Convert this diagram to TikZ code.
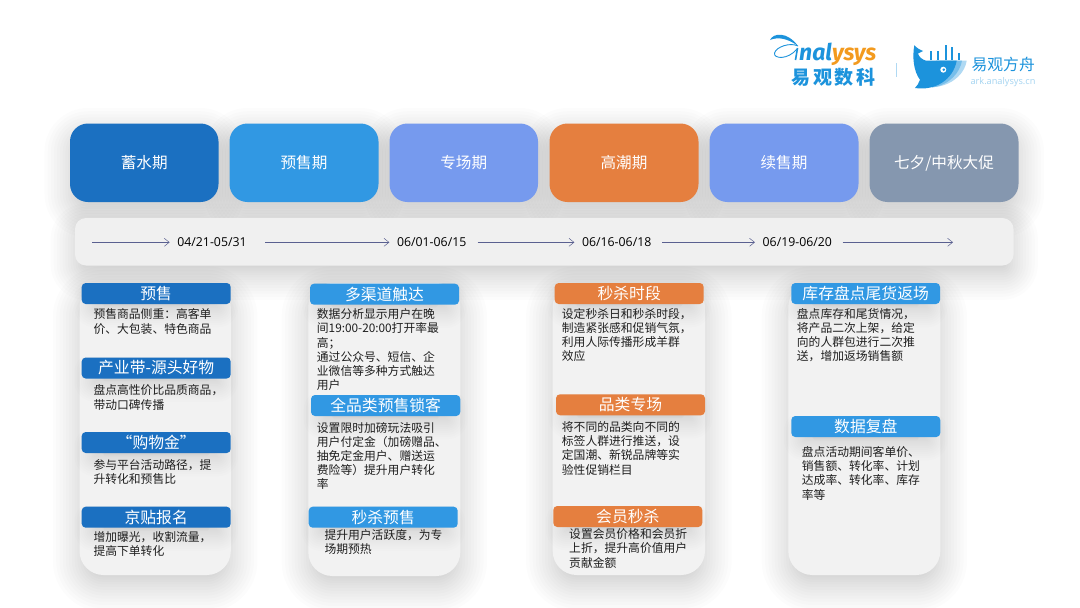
\documentclass[tikz,border=0pt]{standalone}
\usepackage{fontspec}
\setmainfont{Noto Sans CJK SC}
\newfontfamily\latinf{Open Sans}
\newfontfamily\logof{Fira Sans}
\usetikzlibrary{arrows.meta}
\definecolor{cDark}{HTML}{1B70C1}
\definecolor{cBlue}{HTML}{3198E3}
\definecolor{cPeri}{HTML}{769AEE}
\definecolor{cOrange}{HTML}{E57F3F}
\definecolor{cSlate}{HTML}{8597AF}
\definecolor{cCard}{HTML}{F2F2F2}
\definecolor{cBar}{HTML}{F0F0F0}
\definecolor{cArrow}{HTML}{5A6090}
\definecolor{cLogo}{HTML}{1C93DC}
\definecolor{cLogoO}{HTML}{F39A1E}
\definecolor{cTxt}{HTML}{1E1E1E}
% soft shadow: x0 y0 x1 y1 radius spread dy peak
\newcommand{\softshadow}[8]{%
  \foreach \i in {1,...,20}{%
    \pgfmathsetmacro{\ee}{#6*(\i/20)^1.5-#6*0.42}%
    \pgfmathsetmacro{\rr}{max(#5+\ee,1)}%
    \fill[black,opacity=#8,rounded corners=\rr]
      (#1-\ee,#2-\ee+#7) rectangle (#3+\ee,#4+\ee+#7);
  }}
\tikzset{
  x=1pt,y=-1pt,
  phasetxt/.style={text=white,font=\fontsize{15.6}{18}\selectfont},
  head/.style={text=white,font=\fontsize{15.8}{18}\selectfont,inner sep=0pt},
  body/.style={anchor=north west,align=left,inner sep=0pt,text=cTxt,
    font=\fontsize{11.8}{14.2}\selectfont},
  datel/.style={font=\latinf\fontsize{12.3}{14}\selectfont,text=black,inner ysep=0pt,inner xsep=7.5pt},
  tl/.style={draw=cArrow,line width=.6pt,-{Straight Barb[length=5pt,width=8pt,line width=.5pt]}}
}
\newcommand{\pshadow}[2]{\softshadow{#1}{123.5}{#2}{202}{18}{44}{10}{0.013}}
\newcommand{\period}[5]{% name x0 x1 colour text
  \fill[#4,rounded corners=18] (#2,123.5) rectangle (#3,202);
  \node[phasetxt] (#1) at ({(#2+#3)/2},163) {#5};
}
\newcommand{\cshadow}[3]{\softshadow{#1}{283}{#2}{#3}{24}{46}{10}{0.011}}
\newcommand{\card}[4]{% x0 x1 ybottom name
  \fill[cCard,rounded corners=24] (#1,283) rectangle (#2,#3);
  \coordinate (#4) at (#1,283);
}
\newcommand{\hdr}[6]{% name x0 y0 x1 colour text
  \begin{scope}
  \clip (#2-8,#3) rectangle (#4+8,#3+62);
  \softshadow{#2+10}{#3+6}{#4-10}{#3+21}{3}{30}{6}{0.0095}
  \end{scope}
  \fill[#5,rounded corners=4] (#2,#3) rectangle (#4,#3+21);
  \node[head] (#1) at ({(#2+#4)/2},#3+10.5) {#6};
}
\begin{document}
\begin{tikzpicture}
\useasboundingbox (0,0) rectangle (1080,608);
\fill[white] (0,0) rectangle (1080,608);

% all outer shadows first
\pshadow{70}{218.5}
\pshadow{229.5}{378.5}
\pshadow{389.5}{538}
\pshadow{549.5}{698.5}
\pshadow{709.5}{858.5}
\pshadow{869.5}{1018.5}
\softshadow{75}{218}{1013.5}{265.5}{11}{42}{10}{0.012}
\cshadow{79.5}{230.8}{575}
\cshadow{308.3}{460.3}{576}
\cshadow{552.7}{705}{575}
\cshadow{788.3}{940.3}{575}

% phases
\period{p1}{70}{218.5}{cDark}{蓄水期}
\period{p2}{229.5}{378.5}{cBlue}{预售期}
\period{p3}{389.5}{538}{cPeri}{专场期}
\period{p4}{549.5}{698.5}{cOrange}{高潮期}
\period{p5}{709.5}{858.5}{cPeri}{续售期}
\period{p6}{869.5}{1018.5}{cSlate}{七夕/中秋大促}

% timeline bar
\fill[cBar,rounded corners=11] (75,218) rectangle (1013.5,265.5);
\node[datel] (d1) at (212,242.3) {04/21-05/31};
\node[datel] (d2) at (431.7,242.3) {06/01-06/15};
\node[datel] (d3) at (616.7,242.3) {06/16-06/18};
\node[datel] (d4) at (797.3,242.3) {06/19-06/20};
\coordinate (t0) at (92.3,242.3);
\coordinate (t5) at (953,242.3);
\draw[tl] (t0) -- (d1.west);
\draw[tl,shorten <=11pt] (d1.east) -- (d2.west);
\draw[tl,shorten <=3.5pt] (d2.east) -- (d3.west);
\draw[tl,shorten <=3pt] (d3.east) -- (d4.west);
\draw[tl,shorten <=3pt] (d4.east) -- (t5);

% cards
\card{79.5}{230.8}{575}{c1}
\card{308.3}{460.3}{576}{c2}
\card{552.7}{705}{575}{c3}
\card{788.3}{940.3}{575}{c4}

% card 1
\hdr{h11}{81.7}{283}{230.7}{cDark}{预售}
\hdr{h12}{81.7}{357.5}{230.7}{cDark}{产业带-源头好物}
\hdr{h13}{81.7}{432}{230.7}{cDark}{“购物金”}
\hdr{h14}{81.7}{506.7}{230.7}{cDark}{京贴报名}
\node[body] (b11) at (93.3,308.6) {预售商品侧重：高客单\\价、大包装、特色商品};
\node[body] (b12) at (93.3,384.6) {盘点高性价比品质商品，\\带动口碑传播};
\node[body] (b13) at (93.3,459.3) {参与平台活动路径，提\\升转化和预售比};
\node[body] (b14) at (93.3,531.3) {增加曝光，收割流量，\\提高下单转化};

% card 2
\hdr{h21}{310}{283.7}{459}{cBlue}{多渠道触达}
\hdr{h22}{311}{395}{460.3}{cBlue}{全品类预售锁客}
\hdr{h23}{308.7}{506.7}{457.7}{cBlue}{秒杀预售}
\node[body] (b21) at (316.7,308.6) {数据分析显示用户在晚\\间19:00-20:00打开率最\\高；\\通过公众号、短信、企\\业微信等多种方式触达\\用户};
\node[body] (b22) at (316.7,421.9) {设置限时加磅玩法吸引\\用户付定金（加磅赠品、\\抽免定金用户、赠送运\\费险等）提升用户转化\\率};
\node[body] (b23) at (324.3,529.6) {提升用户活跃度，为专\\场期预热};

% card 3
\hdr{h31}{554.7}{283}{703.7}{cOrange}{秒杀时段}
\hdr{h32}{556}{394.3}{705}{cOrange}{品类专场}
\hdr{h33}{553.3}{506}{702.3}{cOrange}{会员秒杀}
\node[body] (b31) at (561.7,307.9) {设定秒杀日和秒杀时段，\\制造紧张感和促销气氛，\\利用人际传播形成羊群\\效应};
\node[body] (b32) at (561.7,421.3) {将不同的品类向不同的\\标签人群进行推送，设\\定国潮、新锐品牌等实\\验性促销栏目};
\node[body] (b33) at (569,528.6) {设置会员价格和会员折\\上折，提升高价值用户\\贡献金额};

% card 4
\hdr{h41}{791.3}{283}{940}{cBlue}{库存盘点尾货返场}
\hdr{h42}{791.3}{416}{940.3}{cBlue}{数据复盘}
\node[body] (b41) at (796.7,307.9) {盘点库存和尾货情况，\\将产品二次上架，给定\\向的人群包进行二次推\\送，增加返场销售额};
\node[body] (b42) at (801.7,446.3) {盘点活动期间客单价、\\销售额、转化率、计划\\达成率、转化率、库存\\率等};

% logo left
\fill[cLogo] (770,40) .. controls (773,33) and (787,31) .. (798,46)
  .. controls (788,38.5) and (778,36.5) .. (770,40) -- cycle;
\draw[cLogo,line width=.9pt] (798,46) .. controls (790,42) and (776,47) .. (774.5,53)
  .. controls (773.5,59) and (788,60) .. (797,49);
\draw[cLogo,line width=1.6pt] (797.5,48) -- (795.5,60);
\node[anchor=base west,inner sep=0pt,font=\logof\bfseries\itshape\fontsize{23}{24}\selectfont] (lg1) at (799,60.5)
  {\textcolor{cLogo}{nal}\textcolor{cLogoO}{ysys}};
\node[inner sep=0pt,text=cLogo,font=\bfseries\fontsize{19}{20}\selectfont] (lg2) at (833.5,77.3)
  {易\kern2.6pt 观\kern2.6pt 数\kern2.6pt 科};
\draw[color=cLogo!35,line width=1pt] (896.7,63) -- (896.7,77);

% whale
\fill[cLogo!35] (940,60.7) -- (966.7,60.7) .. controls (965,72) and (955,84) .. (936,87) -- cycle;
\fill[cLogo!60] (936,60.7) -- (962,60.7) .. controls (960,72) and (950,85) .. (932,87.5) -- cycle;
\fill[cLogo] (914.3,45.3) .. controls (912,58) and (914,72) .. (920,79.7)
  .. controls (919,83) and (917,86) .. (915,88)
  .. controls (935,91) and (953,80) .. (956.7,60.7)
  -- (926,60.7) .. controls (922,59.5) and (919,57) .. (918,53.5)
  -- (923,51) .. controls (920,50) and (917,48) .. (914.3,45.3) -- cycle;
\fill[white] (943.3,69.7) circle (3);
\fill[cLogo] (943.8,69.7) circle (1.4);
\foreach \xx/\yy in {931/51,938.3/51,945.7/44.7,952.3/47.3,959.3/53}{\fill[cLogo] (\xx-1,\yy) rectangle (\xx+1,59.7);}
\node[inner sep=0pt,text=cLogo,font=\fontsize{15.8}{18}\selectfont] (lg3) at (1003.2,64.7) {易观方舟};
\node[inner sep=0pt,text=cLogo!40,font=\latinf\fontsize{9.2}{11}\selectfont] (lg4) at (1003,82.3) {ark.analysys.cn};
\end{tikzpicture}
\end{document}
